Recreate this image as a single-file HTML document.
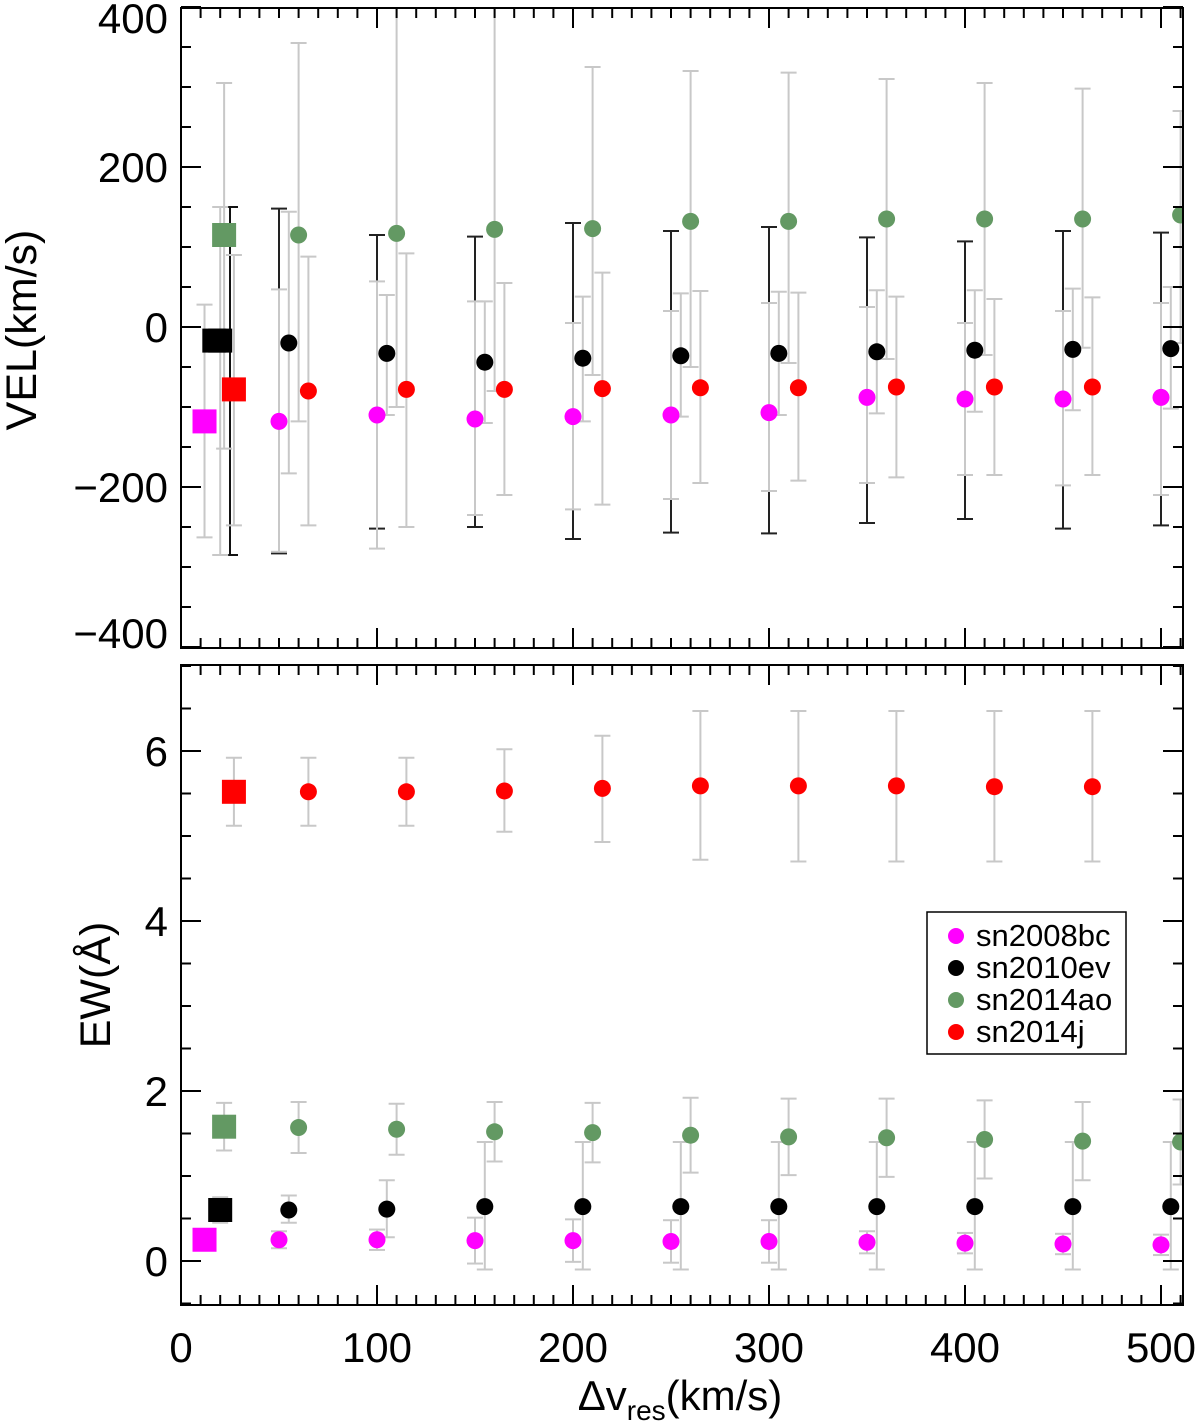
<!DOCTYPE html>
<html><head><meta charset="utf-8"><style>
body{margin:0;background:#fff;}
svg{display:block;font-family:"Liberation Sans",sans-serif;}
</style></head><body>
<svg id="c" width="1200" height="1422" viewBox="0 0 1200 1422"></svg>
<script>
const xVals=[50,100,150,200,250,300,350,400,450,500];
// top panel (VEL)
const pinkVel=[-118,-110,-115,-112,-110,-107,-88,-90,-90,-88];
const pinkVelHi=[47,57,32,5,20,30,25,5,20,30];
const pinkVelLo=[-281,-277,-235,-228,-215,-205,-195,-185,-198,-210];
const blackVel=[-20,-33,-44,-39,-36,-33,-31,-29,-28,-27];
const blackVelHi=[144,40,32,38,42,44,46,46,48,50];
const blackVelLo=[-183,-110,-120,-118,-112,-110,-108,-106,-104,-102];
const blackAltHi=[148,115,113,130,120,125,112,107,120,118];
const blackAltLo=[-283,-252,-250,-265,-257,-258,-245,-240,-252,-248];
const greenVel=[115,117,122,123,132,132,135,135,135,140];
const greenVelHi=[355,420,420,325,320,318,310,305,298,270];
const greenVelLo=[-118,-100,-80,-60,-50,-45,-40,-35,-26,-20];
const redVel=[-80,-78,-78,-77,-76,-76,-75,-75,-75];
const redVelHi=[88,92,55,68,45,43,38,35,37];
const redVelLo=[-248,-250,-210,-222,-195,-192,-188,-185,-185];
const sqVel={pink:[12,-118,28,-263],black:[20,-17,150,-285],green:[22,115,305,-152],red:[27,-78,90,-248]};
// bottom panel (EW)
const pinkEW=[0.25,0.25,0.24,0.24,0.23,0.23,0.22,0.21,0.20,0.19];
const pinkEWErr=[0.1,0.12,0.27,0.25,0.25,0.25,0.13,0.12,0.12,0.12];
const blackEW=[0.60,0.61,0.64,0.64,0.64,0.64,0.64,0.64,0.64,0.64];
const blackEWLo=[0.45,0.28,-0.1,-0.1,-0.1,-0.1,-0.1,-0.1,-0.1,-0.1];
const blackEWHi=[0.77,0.95,1.4,1.4,1.4,1.4,1.4,1.4,1.4,1.4];
const greenEW=[1.57,1.55,1.52,1.51,1.48,1.46,1.45,1.43,1.41,1.40];
const greenEWErr=[0.3,0.3,0.35,0.35,0.44,0.45,0.46,0.46,0.46,0.5];
const redEW=[5.52,5.52,5.53,5.56,5.59,5.59,5.59,5.58,5.58];
const redEWLo=[5.12,5.12,5.05,4.93,4.72,4.7,4.7,4.7,4.7];
const redEWHi=[5.92,5.92,6.02,6.18,6.47,6.47,6.47,6.47,6.47];
const sqEW={pink:[12,0.25,0.15,0.35],black:[20,0.6,0.45,0.75],green:[22,1.58,1.3,1.86],red:[27,5.52,5.12,5.92]};
const legendNames=["sn2008bc","sn2010ev","sn2014ao","sn2014j"];
const xTicks=[0,100,200,300,400,500];
const velTicks=[400,200,0,-200,-400];
const ewTicks=[0,2,4,6];

const colors={pink:"#ff00ff",black:"#000000",green:"#639963",red:"#ff0000"};
const svg=document.getElementById('c');const NS="http://www.w3.org/2000/svg";
const L=181,R=1183;
const X=v=>L+v*1.96;
const T0=8,T1=648,B0=665,B1=1305;
const YV=v=>327-v*0.8;
const YE=v=>1261-v*85;
function mk(tag,a,p){const e=document.createElementNS(NS,tag);for(const k in a)e.setAttribute(k,a[k]);(p||svg).appendChild(e);return e;}
const clipT=mk('clipPath',{id:'ct'});mk('rect',{x:L,y:T0,width:R-L,height:T1-T0},clipT);
const clipB=mk('clipPath',{id:'cb'});mk('rect',{x:L,y:B0,width:R-L,height:B1-B0},clipB);
const gT=mk('g',{'clip-path':'url(#ct)'});
const gB=mk('g',{'clip-path':'url(#cb)'});
function err(g,x,y1,y2,col,w,name){const e=mk('g',{stroke:col,'stroke-width':w},g);


mk('line',{x1:x,x2:x,y1:y1,y2:y2},e);mk('line',{x1:x-8,x2:x+8,y1:y1,y2:y1},e);mk('line',{x1:x-8,x2:x+8,y1:y2,y2:y2},e);}
function dot(g,x,y,col,name){const c=mk('circle',{cx:x,cy:y,r:8.5,fill:col},g);

}
function sq(g,x,y,col,name){const c=mk('rect',{x:x-12,y:y-12,width:24,height:24,fill:col},g);

}
const GR="#c8c8c8";
xVals.forEach((v,i)=>err(gT,X(v),YV(blackAltHi[i]),YV(blackAltLo[i]),"#222",2,'black-alt-errorbar'));
err(gT,X(25),YV(sqVel.black[2]),YV(sqVel.black[3]),"#111",2,'black-alt-errorbar');
for(const k in sqVel){const s=sqVel[k];err(gT,X(s[0]),YV(s[2]),YV(s[3]),GR,2,k+'-square-errorbar');}
xVals.forEach((v,i)=>err(gT,X(v),YV(pinkVelHi[i]),YV(pinkVelLo[i]),GR,2,'pink-errorbar'));
xVals.forEach((v,i)=>err(gT,X(v+5),YV(blackVelHi[i]),YV(blackVelLo[i]),GR,2,'black-errorbar'));
xVals.forEach((v,i)=>err(gT,X(v+10),YV(greenVelHi[i]),YV(greenVelLo[i]),GR,2,'green-errorbar'));
redVel.forEach((v,i)=>err(gT,X(xVals[i]+15),YV(redVelHi[i]),YV(redVelLo[i]),GR,2,'red-errorbar'));
for(const k in sqVel){const s=sqVel[k];sq(gT,X(s[0]),YV(s[1]),colors[k],k+'-vel-square');}
sq(gT,X(17),YV(sqVel.black[1]),colors.black,'black-vel-square-shadow');
xVals.forEach((v,i)=>dot(gT,X(v),YV(pinkVel[i]),colors.pink,'sn2008bc-vel-point'));
xVals.forEach((v,i)=>dot(gT,X(v+5),YV(blackVel[i]),colors.black,'sn2010ev-vel-point'));
xVals.forEach((v,i)=>dot(gT,X(v+10),YV(greenVel[i]),colors.green,'sn2014ao-vel-point'));
redVel.forEach((v,i)=>dot(gT,X(xVals[i]+15),YV(v),colors.red,'sn2014j-vel-point'));
for(const k in sqEW){const s=sqEW[k];err(gB,X(s[0]),YE(s[2]),YE(s[3]),GR,2,k+'-square-errorbar');}
xVals.forEach((v,i)=>err(gB,X(v),YE(pinkEW[i]+pinkEWErr[i]),YE(pinkEW[i]-pinkEWErr[i]),GR,2,'pink-errorbar'));
xVals.forEach((v,i)=>err(gB,X(v+5),YE(blackEWHi[i]),YE(blackEWLo[i]),GR,2,'black-errorbar'));
xVals.forEach((v,i)=>err(gB,X(v+10),YE(greenEW[i]+greenEWErr[i]),YE(greenEW[i]-greenEWErr[i]),GR,2,'green-errorbar'));
redEW.forEach((v,i)=>err(gB,X(xVals[i]+15),YE(redEWHi[i]),YE(redEWLo[i]),GR,2,'red-errorbar'));
for(const k in sqEW){const s=sqEW[k];sq(gB,X(s[0]),YE(s[1]),colors[k],k+'-ew-square');}
xVals.forEach((v,i)=>dot(gB,X(v),YE(pinkEW[i]),colors.pink,'sn2008bc-ew-point'));
xVals.forEach((v,i)=>dot(gB,X(v+5),YE(blackEW[i]),colors.black,'sn2010ev-ew-point'));
xVals.forEach((v,i)=>dot(gB,X(v+10),YE(greenEW[i]),colors.green,'sn2014ao-ew-point'));
redEW.forEach((v,i)=>dot(gB,X(xVals[i]+15),YE(v),colors.red,'sn2014j-ew-point'));
function frame(y0,y1,name){const r=mk('rect',{x:L,y:y0,width:R-L,height:y1-y0,fill:'none',stroke:'#000','stroke-width':2});


for(let v=0;v<=510;v+=10){const x=X(v),len=v%100===0?20:10;
mk('line',{x1:x,x2:x,y1:y1,y2:y1-len,stroke:'#000','stroke-width':2});mk('line',{x1:x,x2:x,y1:y0,y2:y0+len,stroke:'#000','stroke-width':2});}}
frame(T0,T1,'vel-panel-frame');frame(B0,B1,'ew-panel-frame');
for(let v=-400;v<=400;v+=50){const y=YV(v),len=v%200===0?20:10;
mk('line',{x1:L,x2:L+len,y1:y,y2:y,stroke:'#000','stroke-width':2});mk('line',{x1:R,x2:R-len,y1:y,y2:y,stroke:'#000','stroke-width':2});}
for(let v=-0.5;v<=7;v+=0.5){const y=YE(v),len=Math.abs(v%2)<1e-9?20:10;
mk('line',{x1:L,x2:L+len,y1:y,y2:y,stroke:'#000','stroke-width':2});mk('line',{x1:R,x2:R-len,y1:y,y2:y,stroke:'#000','stroke-width':2});}
function txt(s,x,y,a,size,name){const t=mk('text',{x:x,y:y,'text-anchor':a,'font-size':size,fill:'#000'});t.textContent=s;

return t;}
velTicks.forEach(v=>{let y=YV(v)+15;if(v===400)y=33;if(v===-400)y=648;
txt(v<0?'\u2212'+(-v):String(v),168,y,'end',42,'vel-tick-label');});
ewTicks.forEach(v=>txt(String(v),168,YE(v)+15,'end',42,'ew-tick-label'));
xTicks.forEach(v=>txt(String(v),X(v),1362,'middle',42,'x-tick-label'));
const xt=txt('',680,1410,'middle',42,'x-axis-title');xt.innerHTML='\u0394v<tspan font-size="28" dy="10">res</tspan><tspan dy="-10">(km/s)</tspan>';
const yt=txt('VEL(km/s)',0,0,'middle',43,'vel-axis-title');yt.setAttribute('transform','translate(36,330) rotate(-90)');
const yt2=txt('EW(\u00c5)',0,0,'middle',43,'ew-axis-title');yt2.setAttribute('transform','translate(110,985) rotate(-90)');
const lg=mk('g',{});
mk('rect',{x:927,y:912,width:199,height:142,fill:'#fff',stroke:'#000','stroke-width':1.5},lg);
const lc=[colors.pink,colors.black,colors.green,colors.red];
legendNames.forEach((n,i)=>{const y=934+i*32;const e=mk('g',{},lg);


mk('circle',{cx:956,cy:y+2,r:8,fill:lc[i]},e);
const t=mk('text',{x:976,y:y+12,'font-size':31},e);t.textContent=n;});
</script>
</body></html>
